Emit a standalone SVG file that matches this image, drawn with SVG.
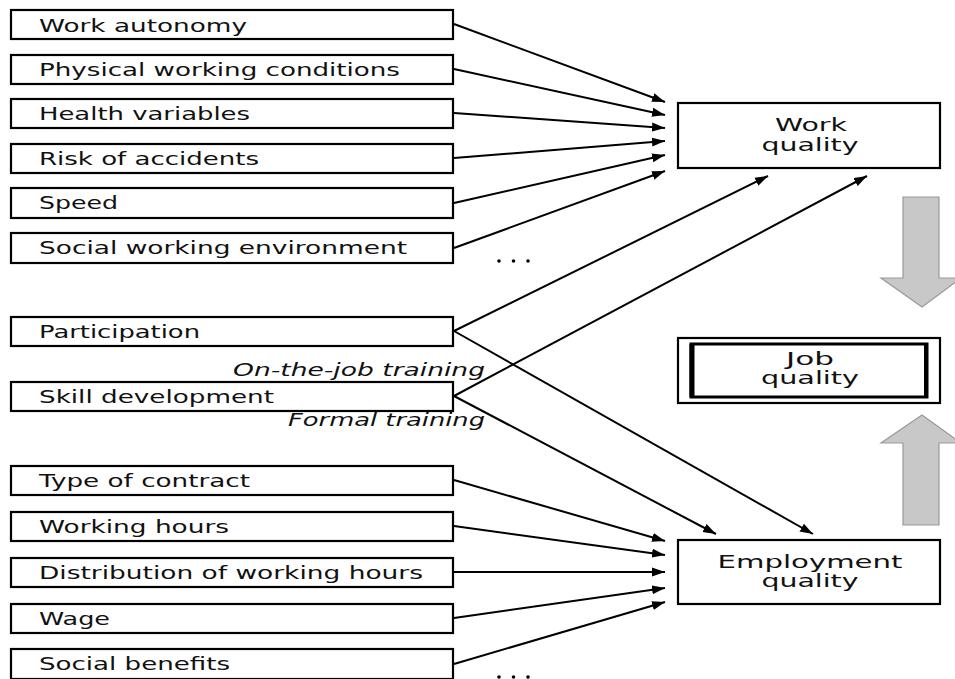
<svg xmlns="http://www.w3.org/2000/svg" width="955" height="679" viewBox="0 0 955 679">
<style>
.box{fill:#fff;stroke:#000;stroke-width:2.2}
.t{font-family:"DejaVu Sans",Verdana,sans-serif;font-size:17.5px;fill:#111}
.c{text-anchor:middle}
.it{font-style:italic}
.ln{stroke:#000;stroke-width:2;fill:none;marker-end:url(#ah)}
.big{fill:#c8c8c8;stroke:#999;stroke-width:1.2}
</style>
<defs>
<marker id="ah" markerUnits="userSpaceOnUse" markerWidth="14" markerHeight="10" refX="13" refY="5" orient="auto" viewBox="0 0 14 10">
<path d="M0,0.5 L13,5 L0,9.5 z" fill="#000"/>
</marker>
</defs>
<rect width="955" height="679" fill="#fff"/>
<g id="connectors">
<line class="ln" x1="454" y1="24" x2="665" y2="102"/>
<line class="ln" x1="454" y1="69" x2="665" y2="115"/>
<line class="ln" x1="454" y1="113" x2="665" y2="128"/>
<line class="ln" x1="454" y1="158" x2="665" y2="141"/>
<line class="ln" x1="454" y1="203" x2="665" y2="155"/>
<line class="ln" x1="454" y1="248" x2="665" y2="171"/>
<line class="ln" x1="454" y1="331" x2="768" y2="176"/>
<line class="ln" x1="454" y1="331" x2="813" y2="534"/>
<line class="ln" x1="454" y1="396" x2="867" y2="176"/>
<line class="ln" x1="454" y1="396" x2="716" y2="534"/>
<line class="ln" x1="454" y1="480" x2="665" y2="541"/>
<line class="ln" x1="454" y1="526" x2="665" y2="555"/>
<line class="ln" x1="454" y1="572" x2="665" y2="572"/>
<line class="ln" x1="454" y1="618" x2="665" y2="588"/>
<line class="ln" x1="454" y1="664" x2="665" y2="602"/>
</g>
<g id="n-work-autonomy"><rect class="box" x="11" y="10" width="442" height="29"/><text class="t" x="39" y="31.5" textLength="208" lengthAdjust="spacingAndGlyphs">Work autonomy</text></g>
<g id="n-physical"><rect class="box" x="11" y="55" width="442" height="29"/><text class="t" x="39" y="75.5" textLength="361" lengthAdjust="spacingAndGlyphs">Physical working conditions</text></g>
<g id="n-health"><rect class="box" x="11" y="99" width="442" height="29"/><text class="t" x="39" y="119.5" textLength="211" lengthAdjust="spacingAndGlyphs">Health variables</text></g>
<g id="n-risk"><rect class="box" x="11" y="144" width="442" height="29"/><text class="t" x="39" y="164.5" textLength="220" lengthAdjust="spacingAndGlyphs">Risk of accidents</text></g>
<g id="n-speed"><rect class="box" x="11" y="188" width="442" height="30"/><text class="t" x="39" y="208.5" textLength="79" lengthAdjust="spacingAndGlyphs">Speed</text></g>
<g id="n-social-env"><rect class="box" x="11" y="233" width="442" height="30"/><text class="t" x="39" y="253.5" textLength="368" lengthAdjust="spacingAndGlyphs">Social working environment</text></g>
<g id="n-participation"><rect class="box" x="11" y="317" width="442" height="29"/><text class="t" x="39" y="337.5" textLength="161" lengthAdjust="spacingAndGlyphs">Participation</text></g>
<g id="n-skill"><rect class="box" x="11" y="382" width="442" height="29"/><text class="t" x="39" y="402.5" textLength="235" lengthAdjust="spacingAndGlyphs">Skill development</text></g>
<g id="lbl-otj"><text class="t it" x="233" y="376" textLength="252" lengthAdjust="spacingAndGlyphs">On-the-job training</text></g>
<g id="lbl-formal"><text class="t it" x="288" y="426" textLength="197" lengthAdjust="spacingAndGlyphs">Formal training</text></g>
<g id="n-contract"><rect class="box" x="11" y="466" width="442" height="29"/><text class="t" x="39" y="486.5" textLength="211" lengthAdjust="spacingAndGlyphs">Type of contract</text></g>
<g id="n-hours"><rect class="box" x="11" y="512" width="442" height="29"/><text class="t" x="39" y="532.5" textLength="190" lengthAdjust="spacingAndGlyphs">Working hours</text></g>
<g id="n-distribution"><rect class="box" x="11" y="558" width="442" height="29"/><text class="t" x="39" y="578.5" textLength="384" lengthAdjust="spacingAndGlyphs">Distribution of working hours</text></g>
<g id="n-wage"><rect class="box" x="11" y="604" width="442" height="29"/><text class="t" x="39" y="624.5" textLength="71" lengthAdjust="spacingAndGlyphs">Wage</text></g>
<g id="n-benefits"><rect class="box" x="11" y="649" width="442" height="30"/><text class="t" x="39" y="669.5" textLength="191" lengthAdjust="spacingAndGlyphs">Social benefits</text></g>
<g id="dots1"><circle cx="499" cy="261" r="1.8"/><circle cx="513.5" cy="261" r="1.8"/><circle cx="528" cy="261" r="1.8"/></g>
<g id="dots2"><circle cx="499" cy="677" r="1.8"/><circle cx="513.5" cy="677" r="1.8"/><circle cx="528" cy="677" r="1.8"/></g>
<g id="n-work-quality"><rect class="box" x="678" y="103" width="262" height="65"/><text class="t c" x="811" y="131" textLength="72" lengthAdjust="spacingAndGlyphs">Work</text><text class="t c" x="810" y="151" textLength="97" lengthAdjust="spacingAndGlyphs">quality</text></g>
<g id="n-job-quality"><rect class="box" x="678" y="338" width="262" height="65"/><rect x="691" y="344" width="236" height="53" fill="none" stroke="#000" stroke-width="3"/><line x1="692" y1="344" x2="692" y2="397" stroke="#000" stroke-width="5"/><line x1="926" y1="344" x2="926" y2="397" stroke="#000" stroke-width="4"/><text class="t c" x="810" y="365" textLength="48" lengthAdjust="spacingAndGlyphs">Job</text><text class="t c" x="810" y="384" textLength="98" lengthAdjust="spacingAndGlyphs">quality</text></g>
<g id="n-employment-quality"><rect class="box" x="678" y="540" width="262" height="64"/><text class="t c" x="810" y="568" textLength="185" lengthAdjust="spacingAndGlyphs">Employment</text><text class="t c" x="810" y="587" textLength="97" lengthAdjust="spacingAndGlyphs">quality</text></g>
<g id="arrow-down"><polygon class="big" points="903,197 939,197 939,278 961,278 922,307 881,278 903,278"/></g>
<g id="arrow-up"><polygon class="big" points="922,415 961,443 939,443 939,525 903,525 903,443 881,443"/></g>
</svg>
